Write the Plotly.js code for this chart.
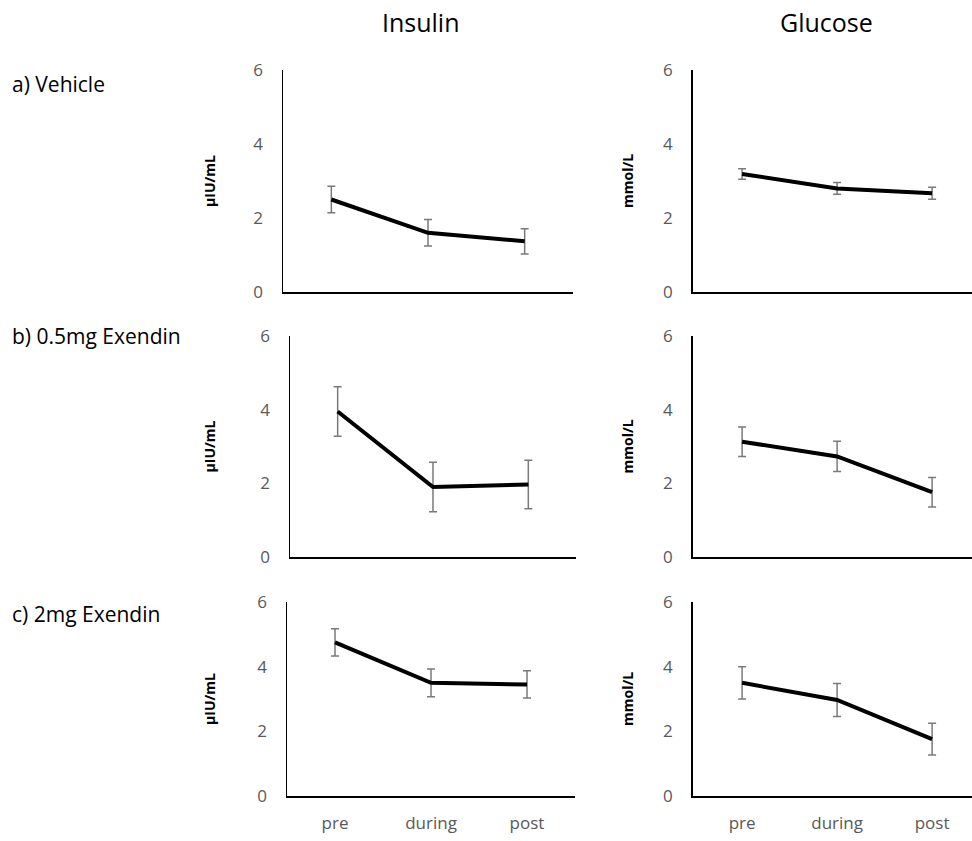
<!DOCTYPE html>
<html>
<head>
<meta charset="utf-8">
<script src="https://cdn.plot.ly/plotly-3.0.1.min.js"></script>
<style>html,body{margin:0;padding:0;background:#fff;}#chart{width:972px;height:841px;}</style>
</head>
<body>
<div id="chart"></div>
<script>
const categories = ["pre", "during", "post"];
const rowLabels = ["a) Vehicle", "b) 0.5mg Exendin", "c) 2mg Exendin"];
const columnTitles = ["Insulin", "Glucose"];
const unitLabels = ["µIU/mL", "mmol/L"];

const insulinVehicle = [2.50, 1.60, 1.37];
const insulinVehicleErr = [0.36, 0.36, 0.34];
const glucoseVehicle = [3.19, 2.80, 2.67];
const glucoseVehicleErr = [0.14, 0.16, 0.16];

const insulinLow = [3.95, 1.90, 1.97];
const insulinLowErr = [0.67, 0.67, 0.66];
const glucoseLow = [3.13, 2.73, 1.76];
const glucoseLowErr = [0.40, 0.41, 0.40];

const insulinHigh = [4.75, 3.50, 3.45];
const insulinHighErr = [0.42, 0.43, 0.42];
const glucoseHigh = [3.50, 2.97, 1.76];
const glucoseHighErr = [0.50, 0.51, 0.49];

const yTicks = [0, 2, 4, 6];

const W = 972, H = 841;
const panels = [
  {v: insulinVehicle, e: insulinVehicleErr, row: 0, col: 0},
  {v: glucoseVehicle, e: glucoseVehicleErr, row: 0, col: 1},
  {v: insulinLow, e: insulinLowErr, row: 1, col: 0},
  {v: glucoseLow, e: glucoseLowErr, row: 1, col: 1},
  {v: insulinHigh, e: insulinHighErr, row: 2, col: 0},
  {v: glucoseHigh, e: glucoseHighErr, row: 2, col: 1}
];
// pixel geometry of each plot area [top, bottom]
const rowPx = [[70, 292], [336, 557], [602, 796]];
const colPx = [[[283, 573], [290, 576], [287, 575]], [[692.7, 972], [692.7, 972], [692.7, 972]]];
const colRange = [[-0.5, 2.5], [-0.52, 2.42]];

const tickFont = {family: "Open Sans, sans-serif", size: 17, color: "#595959"};
const data = [];
const layout = {
  width: W, height: H,
  margin: {l: 0, r: 0, t: 0, b: 0},
  paper_bgcolor: "#ffffff", plot_bgcolor: "#ffffff",
  showlegend: false,
  font: {family: "Open Sans, sans-serif"},
  annotations: []
};

panels.forEach((p, i) => {
  const n = i + 1;
  const xa = "x" + (n === 1 ? "" : n), ya = "y" + (n === 1 ? "" : n);
  data.push({
    type: "scatter", mode: "lines",
    x: categories, y: p.v,
    xaxis: xa, yaxis: ya,
    line: {color: "#000000", width: 4},
    error_y: {type: "data", array: p.e, visible: true, color: "#7a7a7a", thickness: 1.5, width: 4}
  });
  const xp = colPx[p.col][p.row], yp = rowPx[p.row];
  layout["xaxis" + (n === 1 ? "" : n)] = {
    domain: [xp[0] / W, xp[1] / W],
    anchor: ya,
    type: "category",
    range: colRange[p.col],
    showgrid: false, zeroline: false,
    showline: true, linecolor: "#000000", linewidth: 1.5,
    ticks: "",
    showticklabels: p.row === 2,
    tickfont: tickFont,
    ticklabelstandoff: 11
  };
  layout["yaxis" + (n === 1 ? "" : n)] = {
    domain: [1 - yp[1] / H, 1 - yp[0] / H],
    anchor: xa,
    range: [0, 6],
    tickvals: yTicks,
    showgrid: false, zeroline: false,
    showline: true, linecolor: "#000000", linewidth: 1.5,
    ticks: "",
    tickfont: tickFont,
    ticklabelstandoff: 15
  };
  layout.annotations.push({
    xref: "paper", yref: "paper",
    x: (p.col === 0 ? 209 : 627) / W,
    y: 1 - ((yp[0] + yp[1]) / 2) / H,
    text: "<b>" + unitLabels[p.col] + "</b>",
    textangle: -90, showarrow: false,
    xanchor: "center", yanchor: "middle",
    font: {family: "Open Sans, sans-serif", size: 14, color: "#000000"}
  });
});

const colTitleX = [421, 826];
columnTitles.forEach((t, c) => {
  layout.annotations.push({
    xref: "paper", yref: "paper",
    x: colTitleX[c] / W, y: 1 - 22 / H,
    text: t, showarrow: false,
    xanchor: "center", yanchor: "middle",
    font: {family: "Open Sans, sans-serif", size: 25, color: "#000000"}
  });
});
const rowLabelY = [84, 336, 614];
rowLabels.forEach((t, r) => {
  layout.annotations.push({
    xref: "paper", yref: "paper",
    x: 10 / W, y: 1 - rowLabelY[r] / H,
    text: t, showarrow: false,
    xanchor: "left", yanchor: "middle",
    font: {family: "Open Sans, sans-serif", size: 21, color: "#000000"}
  });
});

Plotly.newPlot("chart", data, layout, {staticPlot: true, displayModeBar: false});
</script>
</body>
</html>
